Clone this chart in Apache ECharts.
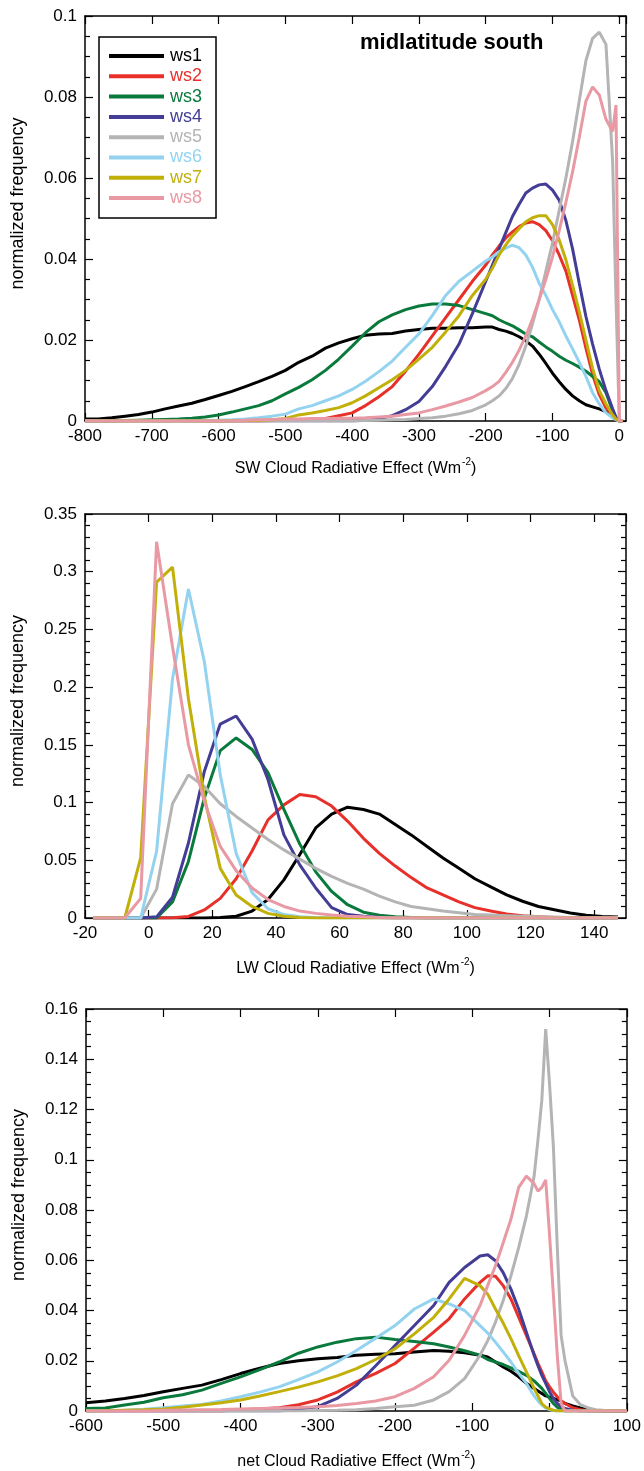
<!DOCTYPE html>
<html><head><meta charset="utf-8">
<script src="https://cdn.jsdelivr.net/npm/echarts@6/dist/echarts.min.js"></script>
<style>html,body{margin:0;padding:0;background:#fff}#c{width:644px;height:1471px}</style>
</head><body><div id="c"></div>
<script>
const seriesNames = ['ws1','ws2','ws3','ws4','ws5','ws6','ws7','ws8'];
const seriesColors = ['#000000','#e8302a','#0a7a3c','#433d96','#b4b4b4','#93d3f0','#c2b00a','#e899a3'];

// ---- SW cloud radiative effect ----
const swX = [-800,-780,-760,-740,-720,-700,-680,-660,-640,-620,-600,-580,-560,-540,-520,-500,-480,-460,-440,-420,-400,-380,-360,-340,-320,-300,-280,-260,-240,-220,-200,
  -190,-180,-170,-160,-150,-140,-130,-120,-110,-100,-90,-80,-70,-60,-50,-40,-30,-20,-10,-5,0,5];
const swWs1 = [0.0005,0.0005,0.0008,0.0012,0.0016,0.0022,0.003,0.0037,0.0044,0.0053,0.0063,0.0073,0.0085,0.0097,0.011,0.0125,0.0145,0.016,0.018,0.0193,0.0203,0.0212,0.0215,0.0216,0.0222,0.0226,0.0229,0.0229,0.023,0.023,0.0232,
  0.0232,0.0226,0.0222,0.0216,0.0208,0.0198,0.0185,0.0165,0.0142,0.0118,0.0097,0.0078,0.0062,0.005,0.004,0.0035,0.003,0.0023,0.001,0.0003,0,0];
const swWs2 = [0,0,0,0,0,0,0,0,0,0,0,0,0,0,0.0001,0.0002,0.0003,0.0004,0.0006,0.0013,0.002,0.0038,0.006,0.0085,0.0123,0.0165,0.021,0.0255,0.03,0.0345,0.0385,
  0.041,0.0432,0.0452,0.0467,0.048,0.0489,0.0492,0.0485,0.047,0.0445,0.041,0.037,0.031,0.025,0.018,0.0115,0.0065,0.0032,0.0013,0.0004,0,0];
const swWs3 = [0,0,0,0.0001,0.0002,0.0003,0.0004,0.0005,0.0007,0.001,0.0015,0.0022,0.003,0.0038,0.005,0.0067,0.0083,0.0102,0.0125,0.0153,0.0185,0.0218,0.0245,0.0262,0.0275,0.0284,0.0289,0.0289,0.0285,0.0275,0.0265,
  0.026,0.025,0.0242,0.0235,0.0225,0.0215,0.0208,0.0195,0.0183,0.0172,0.016,0.015,0.0142,0.0133,0.0123,0.011,0.0097,0.007,0.0025,0.0007,0,0];
const swWs4 = [0,0,0,0,0,0,0,0,0,0,0,0,0,0,0,0,0,0,0,0,0,0.0002,0.0006,0.0013,0.0028,0.0048,0.0085,0.0135,0.019,0.0265,0.0345,
  0.0385,0.0425,0.0465,0.0505,0.0535,0.0563,0.0575,0.0583,0.0585,0.057,0.0545,0.0495,0.0425,0.034,0.0258,0.019,0.0128,0.0075,0.003,0.001,0,0];
const swWs5 = [0,0,0,0,0,0,0,0,0,0,0,0,0,0,0,0,0,0,0,0,0,0.0001,0.0002,0.0003,0.0004,0.0006,0.0008,0.0012,0.0018,0.0026,0.004,
  0.005,0.0062,0.008,0.0105,0.014,0.0185,0.024,0.03,0.037,0.044,0.052,0.06,0.069,0.079,0.089,0.0945,0.096,0.093,0.064,0.03,0,0];
const swWs6 = [0,0,0,0,0,0,0,0,0,0.0001,0.0002,0.0003,0.0005,0.0008,0.0012,0.0017,0.003,0.0038,0.005,0.0062,0.0078,0.0098,0.0122,0.0148,0.0182,0.0215,0.026,0.031,0.0345,0.037,0.0395,
  0.0405,0.0418,0.0427,0.0434,0.0428,0.041,0.038,0.034,0.031,0.0275,0.0245,0.021,0.0178,0.0145,0.011,0.007,0.0042,0.002,0.0008,0.0003,0,0];
const swWs7 = [0,0,0,0,0,0,0,0,0,0,0,0,0.0001,0.0002,0.0003,0.0006,0.0015,0.002,0.0026,0.0033,0.0045,0.0062,0.0082,0.0102,0.0125,0.0153,0.0182,0.022,0.026,0.031,0.035,
  0.0377,0.041,0.0435,0.0457,0.0475,0.0492,0.0502,0.0507,0.0507,0.0485,0.0447,0.0398,0.0335,0.027,0.02,0.013,0.0075,0.0042,0.0015,0.0005,0,0];
const swWs8 = [0,0,0,0,0,0,0,0,0,0,0,0,0.0002,0.0003,0.0004,0.0005,0.0005,0.0006,0.0006,0.0007,0.0007,0.0008,0.001,0.0012,0.0016,0.002,0.0028,0.0037,0.0047,0.0058,0.0075,
  0.0085,0.0098,0.012,0.0145,0.0175,0.021,0.0252,0.03,0.035,0.0405,0.047,0.054,0.0615,0.07,0.079,0.0825,0.0805,0.0745,0.0715,0.078,0,0];

// ---- LW cloud radiative effect ----
const lwX = [-17.5,-12.5,-7.5,-2.5,2.5,7.5,12.5,17.5,22.5,27.5,32.5,37.5,42.5,47.5,52.5,57.5,62.5,67.5,72.5,77.5,82.5,87.5,92.5,97.5,102.5,107.5,112.5,117.5,122.5,127.5,132.5,137.5,142.5,147.5];
const lwWs1 = [0,0,0,0,0,0,0,0,0.0005,0.0015,0.006,0.016,0.033,0.055,0.078,0.09,0.096,0.094,0.09,0.081,0.072,0.062,0.052,0.043,0.034,0.027,0.02,0.0145,0.01,0.0072,0.0043,0.0023,0.0012,0.0008];
const lwWs2 = [0,0,0,0,0,0.0002,0.0014,0.007,0.017,0.034,0.058,0.085,0.098,0.107,0.105,0.097,0.084,0.069,0.056,0.045,0.035,0.026,0.02,0.014,0.009,0.006,0.0035,0.002,0.001,0.0005,0.0002,0,0,0];
const lwWs3 = [0,0,0,0,0,0.014,0.049,0.104,0.145,0.156,0.146,0.126,0.094,0.064,0.04,0.023,0.0115,0.005,0.0023,0.001,0.0005,0,0,0,0,0,0,0,0,0,0,0,0,0];
const lwWs4 = [0,0,0,0,0.001,0.018,0.065,0.127,0.168,0.175,0.155,0.12,0.072,0.046,0.026,0.009,0.003,0.0015,0.0005,0,0,0,0,0,0,0,0,0,0,0,0,0,0,0];
const lwWs5 = [0,0,0,0,0.025,0.099,0.124,0.114,0.099,0.088,0.078,0.068,0.059,0.051,0.043,0.036,0.03,0.025,0.019,0.014,0.01,0.008,0.006,0.0045,0.003,0.0025,0.002,0.0015,0.001,0.0008,0.0005,0.0003,0.0002,0];
const lwWs6 = [0,0,0,0,0.058,0.207,0.285,0.222,0.124,0.056,0.022,0.008,0.003,0.001,0.0005,0,0,0,0,0,0,0,0,0,0,0,0,0,0,0,0,0,0,0];
const lwWs7 = [0,0,0,0.052,0.291,0.304,0.19,0.105,0.043,0.02,0.01,0.004,0.0015,0.0005,0,0,0,0,0,0,0,0,0,0,0,0,0,0,0,0,0,0,0,0];
const lwWs8 = [0,0,0,0.017,0.326,0.235,0.15,0.101,0.062,0.041,0.026,0.016,0.01,0.006,0.004,0.0025,0.0015,0.001,0.0005,0,0,0,0,0,0,0,0,0,0,0,0,0,0,0];

// ---- net cloud radiative effect ----
const netX = [-600,-575,-550,-525,-500,-475,-450,-425,-400,-375,-350,-325,-300,-275,-250,-225,-200,
  -175,-150,-130,-110,-90,-80,-70,-60,-50,-40,-30,-20,-15,-10,-5,
  0,5,10,15,20,30,40,50,60,80,100];
const netWs1 = [0.0033,0.004,0.005,0.0062,0.0077,0.009,0.0103,0.0125,0.0149,0.017,0.0189,0.02,0.0208,0.0213,0.0222,0.0226,0.0228,
  0.0235,0.0241,0.0238,0.0232,0.0222,0.0215,0.0195,0.0175,0.0158,0.0136,0.011,0.009,0.008,0.007,0.006,
  0.0055,0.005,0.0045,0.004,0.003,0.002,0.0012,0.0005,0.0002,0,0];
const netWs2 = [0,0,0,0,0,0,0,0,0.0005,0.0008,0.0013,0.0025,0.0044,0.0075,0.0116,0.015,0.0189,
  0.025,0.0314,0.0367,0.0446,0.0512,0.0538,0.0536,0.0499,0.0446,0.0373,0.0301,0.0228,0.019,0.0156,0.012,
  0.0096,0.0075,0.0057,0.004,0.003,0.0013,0.0005,0.0001,0,0,0];
const netWs3 = [0.001,0.0012,0.0024,0.0035,0.0053,0.0065,0.0083,0.011,0.0136,0.0165,0.0195,0.023,0.0255,0.0274,0.0288,0.0294,0.0285,
  0.0277,0.0268,0.0255,0.024,0.0222,0.0205,0.0195,0.0185,0.0172,0.0158,0.0142,0.012,0.0105,0.009,0.007,
  0.005,0.003,0.0015,0.0005,0,0,0,0,0,0,0];
const netWs4 = [0,0,0,0,0,0,0,0,0,0,0,0.0008,0.0017,0.005,0.0103,0.018,0.0261,
  0.034,0.042,0.0512,0.0571,0.0617,0.0622,0.0598,0.0551,0.0485,0.0406,0.0314,0.0222,0.018,0.0142,0.011,
  0.0077,0.005,0.003,0.0018,0.001,0.0003,0,0,0,0,0];
const netWs5 = [0,0,0,0,0,0,0,0,0,0,0,0,0.0002,0.0003,0.0005,0.001,0.0017,
  0.0023,0.0044,0.0077,0.0129,0.0222,0.028,0.0354,0.044,0.0538,0.065,0.0776,0.0934,0.108,0.1237,0.152,
  0.13,0.105,0.065,0.03,0.02,0.006,0.0025,0.0012,0.0005,0,0];
const netWs6 = [0,0.0001,0.0003,0.0007,0.0013,0.002,0.0026,0.004,0.0057,0.0075,0.0096,0.0125,0.0156,0.0195,0.0241,0.029,0.034,
  0.0406,0.0446,0.0426,0.04,0.034,0.031,0.0274,0.0235,0.0195,0.015,0.011,0.006,0.004,0.0024,0.0012,
  0.0005,0.0002,0,0,0,0,0,0,0,0,0];
const netWs7 = [0,0.0001,0.0003,0.0005,0.0008,0.0015,0.0024,0.0033,0.0044,0.006,0.0077,0.0095,0.0116,0.014,0.0169,0.0205,0.0248,
  0.0307,0.0373,0.0446,0.0528,0.0499,0.0465,0.0406,0.035,0.0288,0.022,0.0156,0.009,0.006,0.003,0.0015,
  0.0008,0.0003,0,0,0,0,0,0,0,0,0];
const netWs8 = [0,0,0,0,0.0003,0.0004,0.0005,0.0006,0.0008,0.001,0.0012,0.0014,0.0017,0.0022,0.003,0.004,0.0057,
  0.009,0.0136,0.0202,0.0301,0.042,0.05,0.0578,0.067,0.0763,0.089,0.0935,0.0905,0.0875,0.089,0.092,
  0.07,0.046,0.022,0.003,0,0,0,0,0,0,0];

const swTicks = {min:-800, max:10, interval:100};
const lwTicks = {min:-20, max:150, interval:20};
const netTicks = {min:-600, max:100, interval:100};
const swY = {min:0, max:0.1, interval:0.02, minor:4};
const lwY = {min:0, max:0.35, interval:0.05, minor:5};
const netY = {min:0, max:0.16, interval:0.02, minor:4};

const FONT = "'Liberation Sans', Arial, sans-serif";
const panels = [
  {x: swX, xt: swTicks, yt: swY, ys: [swWs1,swWs2,swWs3,swWs4,swWs5,swWs6,swWs7,swWs8], label: 'SW Cloud Radiative Effect (Wm', grid:{left:85, top:16, width:541, height:405}, hideMax:true, gap:36},
  {x: lwX, xt: lwTicks, yt: lwY, ys: [lwWs1,lwWs2,lwWs3,lwWs4,lwWs5,lwWs6,lwWs7,lwWs8], label: 'LW Cloud Radiative Effect (Wm', grid:{left:85, top:514, width:541, height:404}, hideMax:true, gap:39},
  {x: netX, xt: netTicks, yt: netY, ys: [netWs1,netWs2,netWs3,netWs4,netWs5,netWs6,netWs7,netWs8], label: 'net Cloud Radiative Effect (Wm', grid:{left:86, top:1009, width:541, height:404}, hideMax:false, gap:39}
];

const axisLine = {show:true, onZero:false, lineStyle:{color:'#000', width:1.5}};
const grids = [], xAxes = [], yAxes = [], series = [];
panels.forEach((p, g) => {
  grids.push(Object.assign({containLabel:false}, p.grid));
  ['bottom','top'].forEach(pos => {
    xAxes.push({
      type:'value', gridIndex:g, position:pos, min:p.xt.min, max:p.xt.max, interval:p.xt.interval,
      axisLine: axisLine, splitLine:{show:false},
      axisTick:{show:true, inside:true, length:8, lineStyle:{color:'#000', width:1.2}},
      axisLabel:{show: pos==='bottom', color:'#000', fontSize:17, fontFamily:FONT, margin:7, showMinLabel:true, showMaxLabel: !p.hideMax},
      name: pos==='bottom' ? '{a|' + p.label + '}{b|-2}{a|)}' : '',
      nameLocation:'middle', nameGap:p.gap,
      nameTextStyle:{rich:{a:{fontSize:16, fontFamily:FONT, color:'#000', lineHeight:20, verticalAlign:'bottom'}, b:{fontSize:10, fontFamily:FONT, color:'#000', lineHeight:20, verticalAlign:'top', padding:[0,0,0,1]}}}
    });
  });
  ['left','right'].forEach(pos => {
    yAxes.push({
      type:'value', gridIndex:g, position:pos, min:p.yt.min, max:p.yt.max, interval:p.yt.interval,
      axisLine: axisLine, splitLine:{show:false}, minorSplitLine:{show:false},
      axisTick:{show:true, inside:true, length:8, lineStyle:{color:'#000', width:1.2}},
      minorTick:{show:true, splitNumber:p.yt.minor, length:5, lineStyle:{color:'#000', width:1.2}},
      axisLabel:{show: pos==='left', color:'#000', fontSize:17, fontFamily:FONT, margin:8, showMinLabel:true, showMaxLabel:true},
      name: pos==='left' ? 'normalized frequency' : '',
      nameLocation:'middle', nameGap:58, nameRotate:90,
      nameTextStyle:{fontSize:18, fontFamily:FONT, color:'#000', padding:[0,0,0,30]}
    });
  });
  p.ys.forEach((vals, k) => {
    series.push({
      type:'line', name: seriesNames[k], xAxisIndex: 2*g, yAxisIndex: 2*g,
      data: p.x.map((xv, i) => [xv, vals[i]]),
      showSymbol:false, symbol:'none', smooth:false, clip:true,
      lineStyle:{color: seriesColors[k], width:3}, itemStyle:{color: seriesColors[k]},
      emphasis:{disabled:true}
    });
  });
});

const chart = echarts.init(document.getElementById('c'), null, {renderer:'canvas'});
chart.setOption({
  animation:false,
  backgroundColor:'#fff',
  title:{text:'midlatitude south', left:360, top:32, padding:0, textStyle:{fontSize:22, fontWeight:'bold', fontFamily:FONT, color:'#000'}},
  legend:{
    left:99, top:37, orient:'vertical', padding:[9,14,10,10], itemGap:0.3,
    itemWidth:55, itemHeight:4, icon:'rect',
    borderColor:'#000', borderWidth:1.5, backgroundColor:'#fff',
    selectedMode:false,
    textStyle:{fontSize:18, fontFamily:FONT, lineHeight:20, padding:[0,0,0,1]},
    data: seriesNames.map((n,k) => ({name:n, textStyle:{color: seriesColors[k]}}))
  },
  grid: grids, xAxis: xAxes, yAxis: yAxes, series: series
});
</script></body></html>
